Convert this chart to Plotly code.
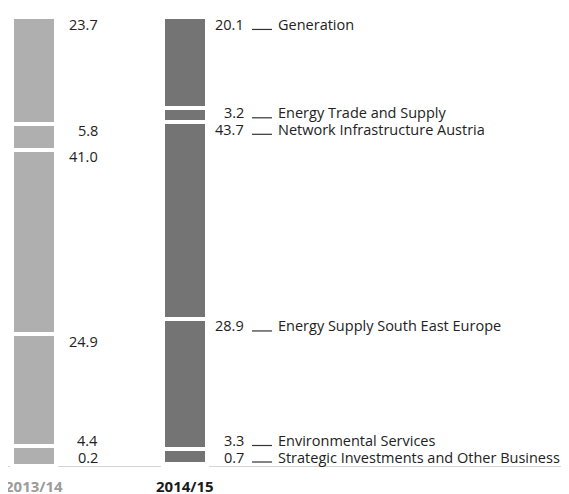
import plotly.graph_objects as go

# ---- data ----
years = ["2013/14", "2014/15"]
segments = ["Generation", "Energy Trade and Supply", "Network Infrastructure Austria",
            "Energy Supply South East Europe", "Environmental Services",
            "Strategic Investments and Other Business"]
values_2013 = [23.7, 5.8, 41.0, 24.9, 4.4, 0.2]
values_2014 = [20.1, 3.2, 43.7, 28.9, 3.3, 0.7]

# ---- layout geometry (page pixels; page has an 8px body margin) ----
OFF = 8
W, H = 569 - OFF, 494 - OFF
TOP_PX, BOT_PX = 17, 467          # page px of value 100 and 0
MT = TOP_PX - OFF
PLOT_H = BOT_PX - TOP_PX
MB = H - MT - PLOT_H
PX_PER_UNIT = 151.0
X0 = -(34.0 - OFF) / PX_PER_UNIT
X1 = X0 + W / PX_PER_UNIT
BAR_W = 44.0 / PX_PER_UNIT
FONT = "Open Sans"
FS = 14.5
COLORS = ["#afafaf", "#747474"]


def y_px(v):
    return TOP_PX + (100 - v) * PLOT_H / 100.0


def y_val(px):
    return 100 - (px - TOP_PX) * 100.0 / PLOT_H


def x_val(px):
    return (px - 34.0) / PX_PER_UNIT


fig = go.Figure()
xs = [0, 1]
for i in reversed(range(len(segments))):
    fig.add_trace(go.Bar(
        x=xs, y=[values_2013[i], values_2014[i]], width=BAR_W,
        marker=dict(color=COLORS, line=dict(color="white", width=4)),
        name=segments[i], hoverinfo="skip", showlegend=False))

annotations = []
shapes = []


def label_positions(vals):
    order = list(reversed(range(len(vals))))
    cum = 0.0
    tops = {}
    for i in order:
        cum += vals[i]
        tops[i] = cum
    limit = y_px(0) - 10
    centers = {}
    for i in order:
        c = min(y_px(tops[i]) + 7, limit)
        centers[i] = c
        limit = c - 16.5
    return centers


c13 = label_positions(values_2013)
c14 = label_positions(values_2014)

for i, v in enumerate(values_2013):
    annotations.append(dict(x=x_val(100), y=y_val(c13[i]), text=f"{v:.1f}",
                            xanchor="right", yanchor="middle", showarrow=False,
                            font=dict(family=FONT, size=FS, color="#222")))

for i, v in enumerate(values_2014):
    yc = c14[i]
    annotations.append(dict(x=x_val(246), y=y_val(yc), text=f"{v:.1f}",
                            xanchor="right", yanchor="middle", showarrow=False,
                            font=dict(family=FONT, size=FS, color="#222")))
    annotations.append(dict(x=x_val(276), y=y_val(yc), text=segments[i],
                            xanchor="left", yanchor="middle", showarrow=False,
                            font=dict(family=FONT, size=FS, color="#222")))
    shapes.append(dict(type="line", xref="x", yref="y",
                       x0=x_val(252), x1=x_val(272),
                       y0=y_val(yc + 5), y1=y_val(yc + 5),
                       line=dict(color="#333", width=1.2)))

half = 20.0 / PX_PER_UNIT
gap = 4.0 / PX_PER_UNIT
pieces = [(x_val(0), xs[0] - half - gap), (xs[0] + half + gap, xs[1] - half - gap),
          (xs[1] + half + gap, x_val(567))]
for a, b in pieces:
    shapes.append(dict(type="line", xref="x", yref="y", x0=a, x1=b, y0=0, y1=0,
                       line=dict(color="#aaaaaa", width=1)))

# year labels below the baseline (paper ref so they are not hidden off-range)
year_colors = ["#9b9b9b", "#1a1a1a"]
year_y_paper = -(486 - BOT_PX) / PLOT_H
for k, yr in enumerate(years):
    annotations.append(dict(x=xs[k], xref="x", y=year_y_paper, yref="paper",
                            text=f"<b>{yr}</b>",
                            xanchor="center", yanchor="middle", showarrow=False,
                            font=dict(family=FONT, size=15, color=year_colors[k])))

fig.update_layout(
    width=W, height=H, barmode="stack",
    margin=dict(l=0, r=0, t=MT, b=MB, pad=0),
    paper_bgcolor="white", plot_bgcolor="white",
    xaxis=dict(range=[X0, X1], visible=False, fixedrange=True),
    yaxis=dict(range=[0, 100], visible=False, fixedrange=True),
    annotations=annotations, shapes=shapes,
    bargap=0,
)

fig.write_html("out.html")
